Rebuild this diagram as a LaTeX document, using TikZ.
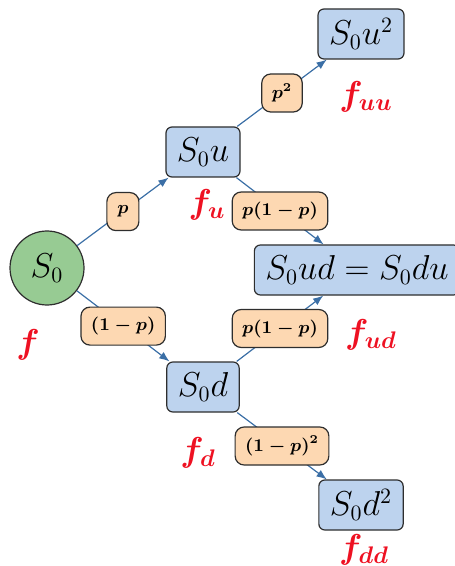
\documentclass[tikz,border=0pt]{standalone}
\usepackage{amsmath,amssymb,bm}
\usetikzlibrary{arrows.meta,positioning}
\definecolor{Ink}{HTML}{2E2E2E}
\definecolor{Edge}{HTML}{3B6FA6}
\definecolor{State}{HTML}{BDD3EE}
\definecolor{Prob}{HTML}{FDD8B2}
\definecolor{Root}{HTML}{97CB93}
\definecolor{Pay}{HTML}{EE1122}
\tikzset{
 every node/.style={text=black},
 arr/.style={-{Latex[length=1.8mm,width=1.4mm]},line width=.6pt,draw=Edge},
 state/.style={draw=Ink,fill=State,line width=.6pt,rounded corners=3pt,minimum height=25pt,inner xsep=5.5pt,font=\fontsize{16}{19}\selectfont},
 root/.style={circle,draw=Ink,fill=Root,line width=.6pt,minimum size=37pt,inner sep=0pt,font=\fontsize{16}{19}\selectfont},
 prob/.style={draw=Ink,fill=Prob,line width=.6pt,rounded corners=4.5pt,minimum height=19pt,minimum width=16pt,inner xsep=5pt,inner ysep=3pt,font=\small\boldmath},
 pay/.style={text=Pay,font=\LARGE\boldmath},
 }

\begin{document}
\begin{tikzpicture}[x=.5pt,y=-.5pt]
 \useasboundingbox (0,0) rectangle (454,566);
 % states of the tree
 \node[root] (s0) at (47,268) {$S_0$};
 \node[state] (su) at (203,152) {$S_0u$};
 \node[state] (sd) at (203,387) {$S_0d$};
 \node[state] (suu) at (361,34) {$S_0u^2$};
 \node[state] (sud) at (357,270) {$S_0ud=S_0du$};
 \node[state] (sdd) at (361,505) {$S_0d^2$};
 % branches with probabilities
 \draw[arr] (s0) -- node[prob] (pu) {$p$} (su);
 \draw[arr] (s0) -- node[prob] (pd) {$(1-p)$} (sd);
 \draw[arr] (su) -- node[prob] (puu) {$p^2$} (suu);
 \draw[arr] (su) -- node[prob] (pud) {$p(1-p)$} (sud);
 \draw[arr] (sd) -- node[prob] (pdu) {$p(1-p)$} (sud);
 \draw[arr] (sd) -- node[prob] (pdd) {$(1-p)^2$} (sdd);
 % payoffs
 \node[pay] (f) at (28,345) {$\bm{f}$};
 \node[pay] (fu) at (207,205) {$\bm{f_u}$};
 \node[pay] (fuu) at (366,97) {$\bm{f_{uu}}$};
 \node[pay] (fud) at (371,335) {$\bm{f_{ud}}$};
 \node[pay] (fd) at (198,453) {$\bm{f_d}$};
 \node[pay] (fdd) at (364,550) {$\bm{f_{dd}}$};
\end{tikzpicture}
\end{document}
